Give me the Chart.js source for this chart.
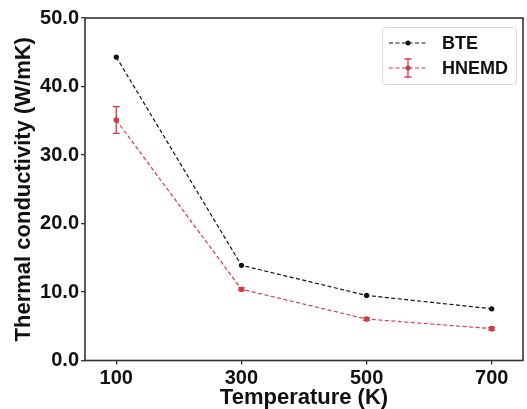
<!DOCTYPE html>
<html>
<head>
<meta charset="utf-8">
<script src="https://cdn.jsdelivr.net/npm/chart.js@4/dist/chart.umd.min.js"></script>
<style>
  html, body { margin: 0; padding: 0; background: #fff; }
  #wrap { width: 527px; height: 409px; }
</style>
</head>
<body>
<div id="wrap"><canvas id="chart" width="527" height="409"></canvas></div>
<script>
// values
const temperatures = [100, 300, 500, 700];
const bteValues = [44.3, 13.9, 9.5, 7.55];
const hnemdValues = [35.1, 10.4, 6.05, 4.65];
const hnemdErrors = [1.95, 0.2, 0.2, 0.2];
const xTicks = [100, 300, 500, 700];
const yTicks = [0, 10, 20, 30, 40, 50];

const FONT = "'Liberation Sans', Arial, sans-serif";
const RED = '#d43b45';
const FRAME = '#333';

function toPoints(values) {
    return temperatures.map(function (t, i) { return { x: t, y: values[i] }; });
}

// error bars for the HNEMD series, placed through the chart scales
const errorBars = {
    id: 'errorBars',
    afterDatasetsDraw: function (chart) {
        const ctx = chart.ctx;
        const xs = chart.scales.x, ys = chart.scales.y;
        ctx.save();
        ctx.strokeStyle = RED;
        ctx.lineWidth = 1.3;
        temperatures.forEach(function (t, i) {
            const px = xs.getPixelForValue(t);
            const top = ys.getPixelForValue(hnemdValues[i] + hnemdErrors[i]);
            const bot = ys.getPixelForValue(hnemdValues[i] - hnemdErrors[i]);
            ctx.beginPath();
            ctx.moveTo(px, top); ctx.lineTo(px, bot);
            ctx.moveTo(px - 3.5, top); ctx.lineTo(px + 3.5, top);
            ctx.moveTo(px - 3.5, bot); ctx.lineTo(px + 3.5, bot);
            ctx.stroke();
        });
        ctx.restore();
    }
};

// box round the plot plus the legend drawn like matplotlib's
const frameAndLegend = {
    id: 'frameAndLegend',
    afterDraw: function (chart) {
        const ctx = chart.ctx;
        const a = chart.chartArea;
        ctx.save();
        ctx.strokeStyle = FRAME;
        ctx.lineWidth = 1.6;
        ctx.strokeRect(a.left, a.top, a.right - a.left, a.bottom - a.top);

        // legend box
        const bx = 382, by = 27, bw = 134, bh = 57;
        ctx.strokeStyle = '#d8d8d8';
        ctx.lineWidth = 1;
        ctx.beginPath();
        ctx.roundRect(bx + 0.5, by + 0.5, bw, bh, 3);
        ctx.fillStyle = 'rgba(255,255,255,0.85)';
        ctx.fill();
        ctx.stroke();

        const entries = [
            { label: 'BTE', color: '#111', y: 43, err: false },
            { label: 'HNEMD', color: RED, y: 68, err: true }
        ];
        entries.forEach(function (e) {
            ctx.strokeStyle = e.color;
            ctx.lineWidth = 1.2;
            ctx.setLineDash([4, 2.5]);
            ctx.beginPath();
            ctx.moveTo(389, e.y); ctx.lineTo(427, e.y);
            ctx.stroke();
            ctx.setLineDash([]);
            ctx.fillStyle = e.color;
            ctx.beginPath();
            ctx.arc(408, e.y, 2.5, 0, Math.PI * 2);
            ctx.fill();
            if (e.err) {
                ctx.lineWidth = 1.3;
                ctx.beginPath();
                ctx.moveTo(408, e.y - 9); ctx.lineTo(408, e.y + 9);
                ctx.moveTo(404.5, e.y - 9); ctx.lineTo(411.5, e.y - 9);
                ctx.moveTo(404.5, e.y + 9); ctx.lineTo(411.5, e.y + 9);
                ctx.stroke();
            }
            ctx.fillStyle = '#111';
            ctx.font = 'bold 18px ' + FONT;
            ctx.textBaseline = 'middle';
            ctx.textAlign = 'left';
            ctx.fillText(e.label, 442, e.y + 1);
        });
        ctx.restore();
    }
};

new Chart(document.getElementById('chart'), {
    type: 'line',
    data: {
        datasets: [
            {
                label: 'BTE',
                data: toPoints(bteValues),
                borderColor: '#111',
                backgroundColor: '#111',
                borderWidth: 1.2,
                borderDash: [4, 2.5],
                pointRadius: 2.6,
                pointBorderWidth: 0,
                tension: 0
            },
            {
                label: 'HNEMD',
                data: toPoints(hnemdValues),
                borderColor: RED,
                backgroundColor: RED,
                borderWidth: 1.2,
                borderDash: [4, 2.5],
                pointRadius: 2.8,
                pointBorderWidth: 0,
                tension: 0
            }
        ]
    },
    options: {
        responsive: false,
        animation: false,
        layout: { padding: { left: 0, right: 4, top: 18, bottom: 0 } },
        plugins: { legend: { display: false }, tooltip: { enabled: false } },
        scales: {
            x: {
                type: 'linear',
                min: 50,
                max: 750,
                afterBuildTicks: function (scale) {
                    scale.ticks = xTicks.map(function (v) { return { value: v }; });
                },
                afterFit: function (scale) { scale.height = 48.5; },
                grid: { display: true, drawOnChartArea: false, drawTicks: true, tickLength: 4, color: FRAME, lineWidth: 1.3 },
                border: { display: false },
                ticks: {
                    color: '#111',
                    padding: 2,
                    maxRotation: 0,
                    font: { family: FONT, size: 20, weight: 'bold' },
                    callback: function (v) { return String(v); }
                },
                title: {
                    display: true,
                    text: 'Temperature (K)',
                    color: '#111',
                    padding: { top: 0, bottom: 0 },
                    font: { family: FONT, size: 22, weight: 'bold', lineHeight: 1 }
                }
            },
            y: {
                min: 0,
                max: 50,
                afterBuildTicks: function (scale) {
                    scale.ticks = yTicks.map(function (v) { return { value: v }; });
                },
                afterFit: function (scale) { scale.width = 85; },
                grid: { display: true, drawOnChartArea: false, drawTicks: true, tickLength: 4, color: FRAME, lineWidth: 1.3 },
                border: { display: false },
                ticks: {
                    color: '#111',
                    padding: 2,
                    font: { family: FONT, size: 20, weight: 'bold' },
                    callback: function (v) { return v.toFixed(1); }
                },
                title: {
                    display: true,
                    text: 'Thermal conductivity (W/mK)',
                    color: '#111',
                    padding: { top: 13, bottom: 0 },
                    font: { family: FONT, size: 22, weight: 'bold', lineHeight: 1 }
                }
            }
        }
    },
    plugins: [errorBars, frameAndLegend]
});
</script>
</body>
</html>
